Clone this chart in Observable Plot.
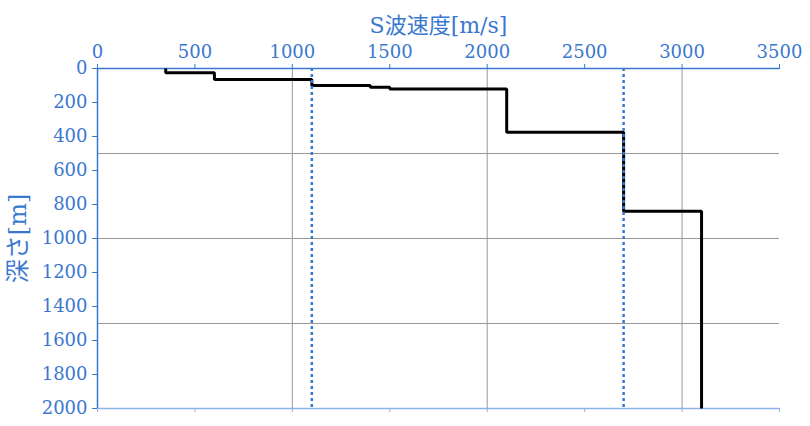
<!DOCTYPE html>
<html>
<head>
<meta charset="utf-8">
<script src="https://cdn.jsdelivr.net/npm/d3@7"></script>
<script src="https://cdn.jsdelivr.net/npm/@observablehq/plot@0.6"></script>
<style>
  body { margin: 0; background: #fff; }
</style>
</head>
<body>
<div id="chart"></div>
<script>
// Layer S-wave velocities [m/s] and their depth ranges [m]
const velocities = [350, 600, 1100, 1400, 1500, 2100, 2700, 3100];
const layerTop =   [0,   25,  65,   100,  110,  120,  375,  840];
const layerBottom =[25,  65,  100,  110,  120,  375,  840,  2000];
const refVelocities = [1100, 2700];
const xTicks = [0, 500, 1000, 1500, 2000, 2500, 3000, 3500];
const yTicks = [0, 200, 400, 600, 800, 1000, 1200, 1400, 1600, 1800, 2000];
const xGrid = [1000, 2000, 3000];
const yGrid = [500, 1000, 1500];
const xTitle = "S波速度[m/s]";
const yTitle = "深さ[m]";

const profile = [];
velocities.forEach((v, i) => {
  profile.push({v, d: layerTop[i]});
  profile.push({v, d: layerBottom[i]});
});

const blue = "#3a78d0";
const font = "'DejaVu Serif', 'Noto Sans CJK JP', serif";
const chart = Plot.plot({
  width: 810,
  height: 426,
  marginTop: 68,
  marginLeft: 97,
  marginRight: 31,
  marginBottom: 18,
  style: {fontFamily: font, fontSize: "20px", color: blue, background: "#fff"},
  x: {domain: [0, 3500]},
  y: {domain: [0, 2000], reverse: true},
  marks: [
    Plot.ruleX(xGrid, {stroke: "#999", strokeWidth: 1}),
    Plot.ruleY(yGrid, {stroke: "#999", strokeWidth: 1}),
    Plot.ruleY([2000], {stroke: "#8fb3e6", strokeWidth: 1.5}),
    Plot.axisX({anchor: "bottom", ticks: xTicks, tickFormat: () => "", tickSize: 4, stroke: "#8fb3e6", label: null}),
    Plot.ruleY([0], {stroke: blue, strokeWidth: 1.5}),
    Plot.ruleX([0], {stroke: blue, strokeWidth: 1.5}),
    Plot.axisX({anchor: "top", ticks: xTicks, tickSize: 5, tickPadding: 6, label: null, fontSize: 18, fontFamily: font, tickFormat: d => String(d)}),
    Plot.axisY({anchor: "left", ticks: yTicks, tickSize: 5, tickPadding: 5, label: null, fontSize: 18, fontFamily: font, tickFormat: d => String(d)}),
    Plot.line(profile, {x: "v", y: "d", stroke: "#000", strokeWidth: 3, curve: "linear", strokeLinejoin: "miter", strokeLinecap: "butt"}),
    Plot.ruleX(refVelocities, {stroke: blue, strokeWidth: 2.5, strokeDasharray: "3,3"}),
    Plot.text([xTitle], {frameAnchor: "top", dy: -51, fontSize: 22, fontFamily: font, fill: blue}),
    Plot.text([yTitle], {frameAnchor: "left", textAnchor: "middle", dx: -79, rotate: -90, fontSize: 24, fontFamily: font, fill: blue})
  ]
});
document.getElementById("chart").appendChild(chart);
</script>
</body>
</html>
